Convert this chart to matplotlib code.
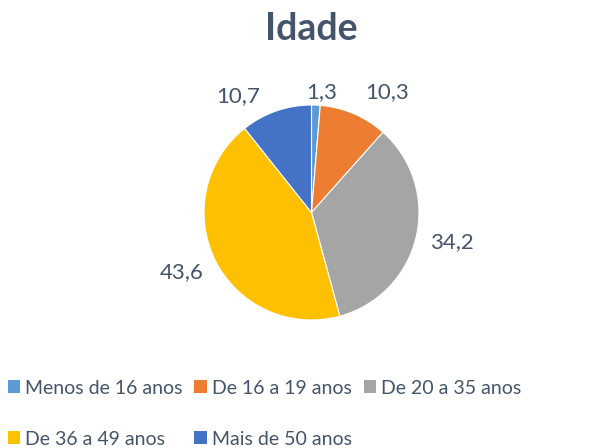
import matplotlib
matplotlib.use('Agg')

import numpy as np
import matplotlib.pyplot as plt
from matplotlib.patches import Patch

categorias = ['Menos de 16 anos', 'De 16 a 19 anos', 'De 20 a 35 anos',
              'De 36 a 49 anos', 'Mais de 50 anos']
valores = [1.3, 10.3, 34.2, 43.6, 10.7]
rotulos = ['1,3', '10,3', '34,2', '43,6', '10,7']
cores = ['#5B9BD5', '#ED7D31', '#A5A5A5', '#FFC000', '#4472C4']

# ajuste de posicao dos rotulos (graus, raio) para ficar parecido com o excel
desvio_ang = [-2.7, -9.1, 1.3, -2.1, 13.1]
dist_rot = [1.12, 1.32, 1.33, 1.33, 1.28]

texto_cor = '#44546A'
plt.rcParams['font.family'] = ['Lato', 'DejaVu Sans']

fig = plt.figure(figsize=(6.04, 4.48), dpi=100)
W, H = 604.0, 448.0
cx, cy, r = 311.5, 212.5, 107.5
ax = fig.add_axes([(cx - r) / W, (H - cy - r) / H, 2 * r / W, 2 * r / H])

wedges, _ = ax.pie(valores, colors=cores, startangle=90, counterclock=False,
                   radius=1.0, wedgeprops=dict(edgecolor='white', linewidth=0.8))
ax.set_xlim(-1, 1)
ax.set_ylim(-1, 1)
ax.set_aspect('equal')
ax.axis('off')

for w, lab, da, d in zip(wedges, rotulos, desvio_ang, dist_rot):
    ang = np.deg2rad((w.theta1 + w.theta2) / 2 + da)
    ax.text(d * np.cos(ang), d * np.sin(ang), lab, ha='center', va='center',
            fontsize=16, color=texto_cor, clip_on=False)

fig.text(cx / W, 1 - 29 / H, 'Idade', ha='center', va='center',
         fontsize=27, fontweight='bold', color=texto_cor)

# legenda em ordem de linha (matplotlib preenche por coluna)
ordem = [0, 3, 1, 4, 2]
handles = [Patch(facecolor=cores[i], edgecolor='none') for i in ordem]
nomes = [categorias[i] for i in ordem]
leg = fig.legend(handles, nomes, ncol=3, loc='upper left',
                 bbox_to_anchor=(0.0, 1 - 372 / H), frameon=False,
                 fontsize=14, handlelength=0.65, handleheight=0.65,
                 handletextpad=0.25, columnspacing=0.6, labelspacing=1.75,
                 borderaxespad=0.1, borderpad=0.3)
for t in leg.get_texts():
    t.set_color(texto_cor)

fig.savefig('out.png', dpi=100)
